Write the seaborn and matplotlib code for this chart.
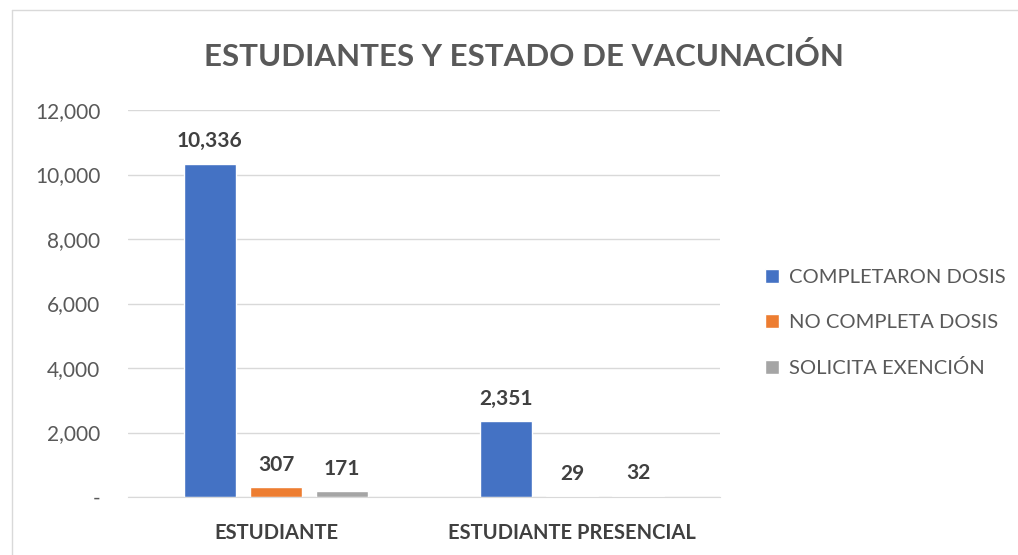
import matplotlib
matplotlib.use('Agg')
import numpy as np
import pandas as pd
import matplotlib.pyplot as plt
import seaborn as sns
from matplotlib.ticker import FuncFormatter

# datos
categorias = ['ESTUDIANTE', 'ESTUDIANTE PRESENCIAL']
series = ['COMPLETARON DOSIS', 'NO COMPLETA DOSIS', 'SOLICITA EXENCIÓN']
completaron = [10336, 2351]
no_completa = [307, 29]
exencion = [171, 32]
colores = ['#4472C4', '#ED7D31', '#A5A5A5']
yticks = [0, 2000, 4000, 6000, 8000, 10000, 12000]

sns.set_style('white')
plt.rcParams['font.family'] = ['Lato', 'DejaVu Sans']

df = pd.DataFrame({
    'categoria': categorias * 3,
    'serie': [series[0]] * 2 + [series[1]] * 2 + [series[2]] * 2,
    'valor': completaron + no_completa + exencion,
})

fig = plt.figure(figsize=(10.18, 5.55), dpi=100)
ax = fig.add_axes([128 / 1018, 1 - 497 / 555, 592 / 1018, 387 / 555])

sns.barplot(data=df, x='categoria', y='valor', hue='serie', palette=colores,
            width=0.67, gap=0.21, ax=ax, saturation=1, legend=True)

for c in ax.containers:
    ax.bar_label(c, labels=[f'{v:,.0f}' for v in c.datavalues], padding=9,
                 fontsize=15, fontweight='bold', color='#404040')

ax.set_ylim(0, 12000)
ax.set_xlim(-0.5, 1.5)
ax.set_yticks(yticks)
ax.yaxis.set_major_formatter(FuncFormatter(lambda v, p: '-' if v == 0 else f'{v:,.0f}'))
ax.grid(axis='y', color='#D9D9D9', linewidth=1)
ax.set_axisbelow(True)
for s in ['top', 'right', 'left']:
    ax.spines[s].set_visible(False)
ax.spines['bottom'].set_color('#D9D9D9')
ax.set_xlabel('')
ax.set_ylabel('')

ax.tick_params(axis='y', length=0, labelsize=15, labelcolor='#595959', pad=20)
ax.set_xticks([-0.5, 0.5, 1.5], minor=False)
ax.set_xticklabels(['', '', ''])
ax.tick_params(axis='x', which='major', direction='out', length=7, color='#D9D9D9', width=1)
ax.set_xticks([0, 1], minor=True)
ax.set_xticklabels(categorias, minor=True, fontsize=14.5, fontweight='bold', color='#404040')
ax.tick_params(axis='x', which='minor', length=0, pad=19)

leg = ax.legend(loc='center left', bbox_to_anchor=(1.045, 0.45), frameon=False,
                fontsize=14.5, handlelength=0.7, handleheight=0.7, handletextpad=0.5,
                labelspacing=1.4)
for t in leg.get_texts():
    t.set_color('#595959')

fig.text(0.515, 1 - 56 / 555, 'ESTUDIANTES Y ESTADO DE VACUNACIÓN', ha='center', va='center',
         fontsize=22.5, fontweight='bold', color='#595959')

# borde del area del grafico
fig.add_artist(plt.Line2D([12 / 1018, 12 / 1018], [0, 1 - 10 / 555], color='#D9D9D9', lw=1))
fig.add_artist(plt.Line2D([12 / 1018, 1], [1 - 10 / 555, 1 - 10 / 555], color='#D9D9D9', lw=1))

fig.savefig('out.png', dpi=100)
